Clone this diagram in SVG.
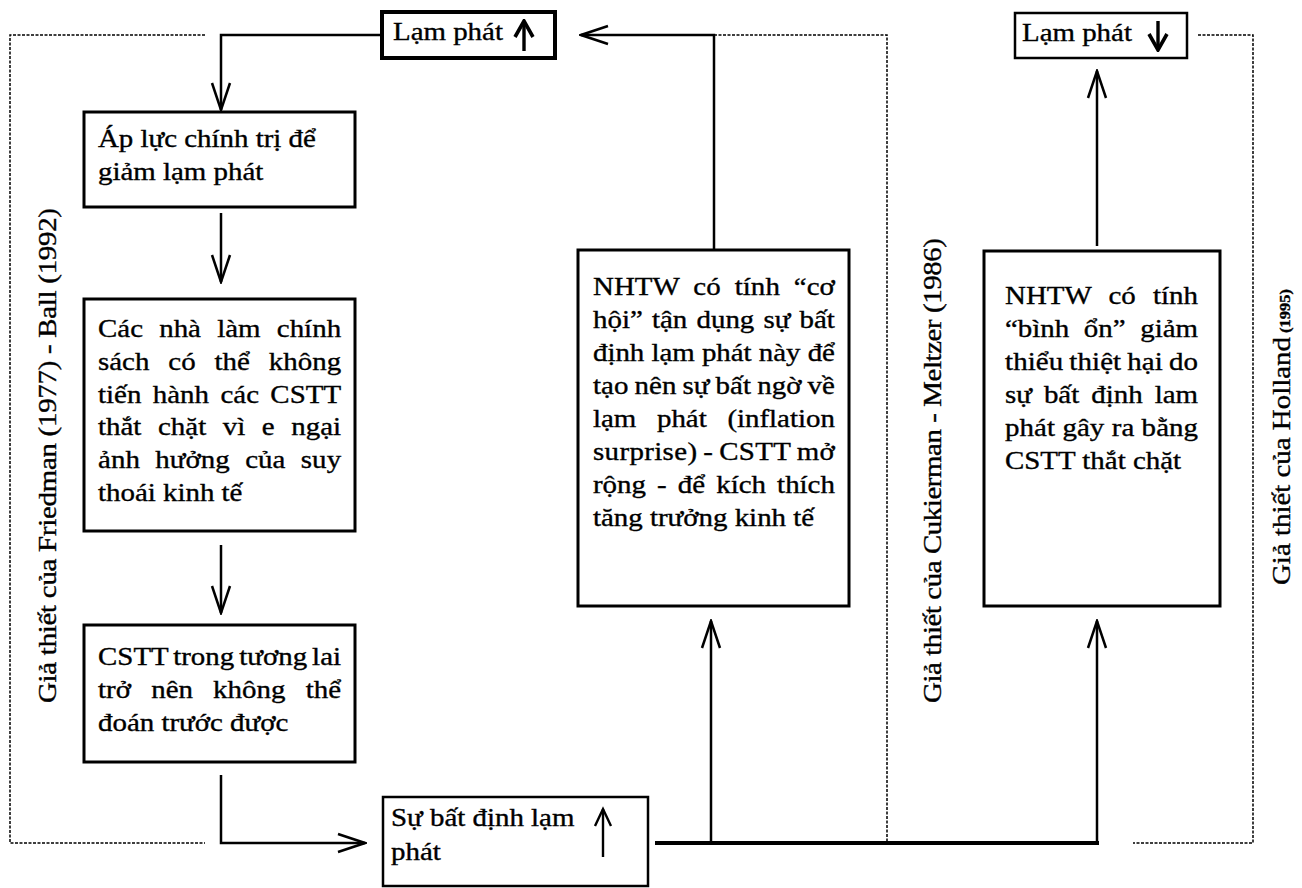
<svg xmlns="http://www.w3.org/2000/svg" width="1302" height="888" viewBox="0 0 1302 888">
<style>
.box{fill:#fff;stroke:#000;stroke-width:3}
.t{font-family:"Liberation Serif","Times New Roman",serif;font-size:24.5px;fill:#000;stroke:#000;stroke-width:0.35}
.ln{fill:none;stroke:#000;stroke-width:2.5}
.thick{fill:none;stroke:#000;stroke-width:4}
.dot{fill:none;stroke:#000;stroke-width:1.5;stroke-dasharray:3 1.5}
.sm{fill:none;stroke:#000;stroke-width:3.4}
</style>
<defs>
<marker id="v" viewBox="-30 -12 32 24" refX="0" refY="0" markerWidth="32" markerHeight="24" orient="auto" markerUnits="userSpaceOnUse">
<path d="M-27,-9 L0,0 L-27,9" fill="none" stroke="#000" stroke-width="2.5"/>
</marker>
<marker id="vs" viewBox="-20 -12 22 24" refX="0" refY="0" markerWidth="22" markerHeight="24" orient="auto" markerUnits="userSpaceOnUse">
<path d="M-16,-9 L0,0 L-16,9" fill="none" stroke="#000" stroke-width="3.6"/>
</marker>
</defs>
<rect width="1302" height="888" fill="#fff"/>

<g id="connectors">
<path class="dot" d="M205,35 H10 V843 H205"/>
<path class="dot" d="M714,35 H887 V843"/>
<path class="dot" d="M1198,35 H1253 V843 H1133"/>
<path class="ln" d="M382,35 H221 V110" marker-end="url(#v)"/>
<path class="ln" d="M221,213 V282" marker-end="url(#v)"/>
<path class="ln" d="M221,545 V613" marker-end="url(#v)"/>
<path class="ln" d="M221,775 V843 H365" marker-end="url(#v)"/>
<path class="thick" d="M655,843 H1099"/>
<path class="ln" d="M711,843 V621" marker-end="url(#v)"/>
<path class="ln" d="M1097,843 V621" marker-end="url(#v)"/>
<path class="ln" d="M714,250 V35 H581" marker-end="url(#v)"/>
<path class="ln" d="M1097,246 V71" marker-end="url(#v)"/>
</g>

<g id="lamphat-tang">
<rect x="382" y="12" width="173" height="46" fill="#fff" stroke="#000" stroke-width="4"/>
<text class="t" transform="matrix(1.18 0 0 1 393 40)">Lạm phát</text>
<path class="sm" d="M524,51 V21" marker-end="url(#vs)"/>
</g>

<g id="lamphat-giam">
<rect x="1015" y="13" width="172" height="45" fill="#fff" stroke="#000" stroke-width="2.5"/>
<text class="t" transform="matrix(1.18 0 0 1 1022 41)">Lạm phát</text>
<path class="sm" d="M1158,21 V50" marker-end="url(#vs)"/>
</g>

<g id="ap-luc">
<rect class="box" x="84" y="112" width="271" height="95"/>
<text class="t" transform="matrix(1.18 0 0 1 98 147)">Áp lực chính trị để</text>
<text class="t" transform="matrix(1.18 0 0 1 98 180)">giảm lạm phát</text>
</g>

<g id="nha-lam-chinh-sach">
<rect class="box" x="84" y="299" width="271" height="232"/>
<text class="t" transform="matrix(1.18 0 0 1 98 337)" word-spacing="7.6" textLength="206" lengthAdjust="spacing">Các nhà làm chính</text>
<text class="t" transform="matrix(1.18 0 0 1 98 369.8)" word-spacing="9.9" textLength="206" lengthAdjust="spacing">sách có thể không</text>
<text class="t" transform="matrix(1.18 0 0 1 98 402.6)" word-spacing="3.5" textLength="206" lengthAdjust="spacing">tiến hành các CSTT</text>
<text class="t" transform="matrix(1.18 0 0 1 98 435.4)" word-spacing="7.9" textLength="206" lengthAdjust="spacing">thắt chặt vì e ngại</text>
<text class="t" transform="matrix(1.18 0 0 1 98 468.2)" word-spacing="6.8" textLength="206" lengthAdjust="spacing">ảnh hưởng của suy</text>
<text class="t" transform="matrix(1.18 0 0 1 98 501)">thoái kinh tế</text>
</g>

<g id="cstt-tuong-lai">
<rect class="box" x="84" y="625" width="271" height="137"/>
<text class="t" transform="matrix(1.18 0 0 1 98 665)" word-spacing="-2" textLength="206" lengthAdjust="spacing">CSTT trong tương lai</text>
<text class="t" transform="matrix(1.18 0 0 1 98 698)" word-spacing="10.8" textLength="206" lengthAdjust="spacing">trở nên không thể</text>
<text class="t" transform="matrix(1.18 0 0 1 98 731)">đoán trước được</text>
</g>

<g id="bat-dinh">
<rect x="383" y="797" width="265" height="89" fill="#fff" stroke="#000" stroke-width="2.5"/>
<text class="t" transform="matrix(1.18 0 0 1 391 826)">Sự bất định lạm</text>
<text class="t" transform="matrix(1.18 0 0 1 391 860)">phát</text>
<path fill="none" stroke="#000" stroke-width="2.4" d="M603,857 V809"/>
<path fill="none" stroke="#000" stroke-width="2.4" d="M595,826 L603,809 L611,826"/>
</g>

<g id="nhtw-co-hoi">
<rect class="box" x="578" y="250" width="271" height="356"/>
<text class="t" transform="matrix(1.18 0 0 1 593 295)" word-spacing="5.6" textLength="205" lengthAdjust="spacing">NHTW có tính “cơ</text>
<text class="t" transform="matrix(1.18 0 0 1 593 328)" word-spacing="1.6" textLength="205" lengthAdjust="spacing">hội” tận dụng sự bất</text>
<text class="t" transform="matrix(1.18 0 0 1 593 361)" textLength="205" lengthAdjust="spacing">định lạm phát này để</text>
<text class="t" transform="matrix(1.18 0 0 1 593 394)" word-spacing="-1" textLength="205" lengthAdjust="spacing">tạo nên sự bất ngờ về</text>
<text class="t" transform="matrix(1.18 0 0 1 593 427)" word-spacing="11.4" textLength="205" lengthAdjust="spacing">lạm phát (inflation</text>
<text class="t" transform="matrix(1.18 0 0 1 593 460)" word-spacing="-1.4" textLength="205" lengthAdjust="spacing">surprise) - CSTT mở</text>
<text class="t" transform="matrix(1.18 0 0 1 593 493)" word-spacing="3.3" textLength="205" lengthAdjust="spacing">rộng - để kích thích</text>
<text class="t" transform="matrix(1.18 0 0 1 593 526)">tăng trưởng kinh tế</text>
</g>

<g id="nhtw-binh-on">
<rect class="box" x="984" y="251" width="236" height="355"/>
<text class="t" transform="matrix(1.18 0 0 1 1005 304)" word-spacing="8.3" textLength="163.6" lengthAdjust="spacing">NHTW có tính</text>
<text class="t" transform="matrix(1.18 0 0 1 1005 337)" word-spacing="6.2" textLength="163.6" lengthAdjust="spacing">“bình ổn” giảm</text>
<text class="t" transform="matrix(1.18 0 0 1 1005 370)" word-spacing="-1" textLength="163.6" lengthAdjust="spacing">thiểu thiệt hại do</text>
<text class="t" transform="matrix(1.18 0 0 1 1005 403)" word-spacing="4" textLength="163.6" lengthAdjust="spacing">sự bất định lam</text>
<text class="t" transform="matrix(1.18 0 0 1 1005 436)" textLength="163.6" lengthAdjust="spacing">phát gây ra bằng</text>
<text class="t" transform="matrix(1.18 0 0 1 1005 469)">CSTT thắt chặt</text>
</g>

<g id="label-friedman">
<text class="t" transform="translate(56,703) rotate(-90) scale(1.18,1)" textLength="419.5" lengthAdjust="spacing">Giả thiết của Friedman (1977) - Ball (1992)</text>
</g>
<g id="label-cukierman">
<text class="t" transform="translate(941,703) rotate(-90) scale(1.18,1)" textLength="394" lengthAdjust="spacing">Giả thiết của Cukierman - Meltzer (1986)</text>
</g>
<g id="label-holland">
<text class="t" transform="translate(1290,585) rotate(-90) scale(1.18,1)">Giả thiết của Holland<tspan font-size="14" font-weight="bold"> (1995)</tspan></text>
</g>
</svg>
